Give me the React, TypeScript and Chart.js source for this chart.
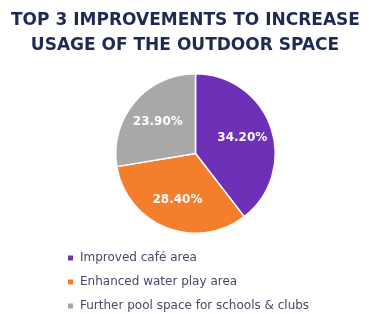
import React, { useEffect, useRef } from "react";
import { Chart, registerables } from "chart.js";

Chart.register(...registerables);

const titleLines = ["TOP 3 IMPROVEMENTS TO INCREASE", "USAGE OF THE OUTDOOR SPACE"];
const categories = ["Improved café area", "Enhanced water play area", "Further pool space for schools & clubs"];
const values = [34.2, 28.4, 23.9];
const valueLabels = ["34.20%", "28.40%", "23.90%"];
const colors = ["#6E30B6", "#F47E2B", "#A8A8A8"];

const titlePlugin = {
  id: "customTitle",
  afterDraw(chart: any) {
    const ctx = chart.ctx;
    ctx.save();
    ctx.fillStyle = "#1F2A52";
    ctx.font = "bold 17px 'DejaVu Sans'";
    ctx.textAlign = "center";
    ctx.textBaseline = "alphabetic";
    const xs = [177.5, 177];
    const ys = [17, 42];
    titleLines.forEach((t, i) => {
      ctx.fillText(t, xs[i], ys[i]);
    });
    ctx.restore();
  },
};

const sliceLabelPlugin = {
  id: "sliceLabels",
  afterDatasetsDraw(chart: any) {
    const ctx = chart.ctx;
    const meta = chart.getDatasetMeta(0);
    ctx.save();
    ctx.fillStyle = "#FFFFFF";
    ctx.font = "bold 12px 'DejaVu Sans'";
    ctx.textAlign = "center";
    ctx.textBaseline = "middle";
    meta.data.forEach((arc: any, i: number) => {
      const p = arc.getProps(["x", "y", "startAngle", "endAngle", "outerRadius"], true);
      const mid = (p.startAngle + p.endAngle) / 2;
      const r = p.outerRadius * 0.62;
      ctx.fillText(valueLabels[i], p.x + Math.cos(mid) * r, p.y + Math.sin(mid) * r);
    });
    ctx.restore();
  },
};

const legendPlugin = {
  id: "customLegend",
  afterDraw(chart: any) {
    const ctx = chart.ctx;
    const area = chart.chartArea;
    ctx.save();
    ctx.font = "12px 'DejaVu Sans'";
    ctx.textAlign = "left";
    ctx.textBaseline = "middle";
    const left = 60;
    categories.forEach((c, i) => {
      const y = area.bottom + 24 + i * 24;
      ctx.fillStyle = colors[i];
      ctx.fillRect(left, y - 2.5, 5, 5);
      ctx.fillStyle = "#454A68";
      ctx.fillText(c, left + 12, y);
    });
    ctx.restore();
  },
};

export default function App() {
  const ref = useRef<HTMLCanvasElement>(null);
  useEffect(() => {
    if (!ref.current) return;
    const chart = new Chart(ref.current, {
      type: "pie",
      data: {
        labels: categories,
        datasets: [
          {
            data: values,
            backgroundColor: colors,
            borderColor: "#FFFFFF",
            borderWidth: 1.5,
          },
        ],
      },
      options: {
        animation: false,
        responsive: true,
        maintainAspectRatio: false,
        layout: { padding: { left: 22, right: 0, top: 65, bottom: 80 } },
        plugins: {
          legend: { display: false },
          tooltip: { enabled: false },
          title: { display: false },
        },
      },
      plugins: [sliceLabelPlugin, legendPlugin, titlePlugin],
    });
    return () => chart.destroy();
  }, []);
  return (
    <div style={{ width: 353, height: 306, position: "relative" }}>
      <canvas ref={ref} />
    </div>
  );
}
